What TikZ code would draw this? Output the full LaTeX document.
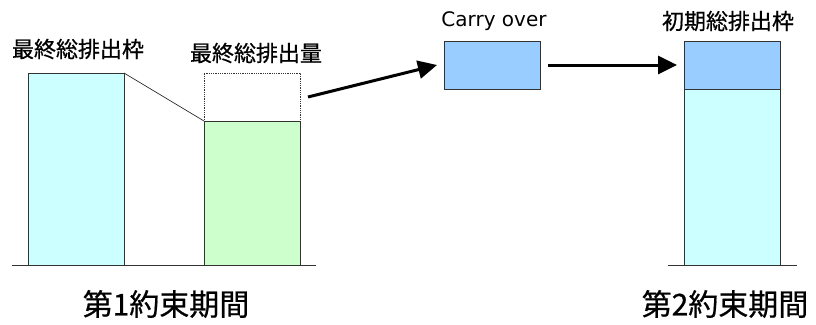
\documentclass[tikz,border=0pt]{standalone}
\usepackage{fontspec}
\newfontfamily\jpfont[FakeBold=0.6]{Noto Sans CJK JP}
\newfontfamily\latinfont{DejaVu Sans}
\usetikzlibrary{arrows.meta}
\definecolor{capcyan}{HTML}{CCFFFF}
\definecolor{usegreen}{HTML}{CCFFCC}
\definecolor{carryblue}{HTML}{99CCFF}
\definecolor{edgegray}{HTML}{333333}
\begin{document}
\begin{tikzpicture}[x=1pt,y=-1pt,
  barbox/.style={draw=edgegray, line width=0.8pt, inner sep=0pt, outer sep=0pt, minimum width=96pt},
  toplabel/.style={font=\jpfont\fontsize{22}{24}\selectfont, inner sep=0pt},
  periodlabel/.style={font=\jpfont\fontsize{30}{32}\selectfont, inner sep=0pt},
  ground/.style={draw=edgegray, line width=0.8pt},
  bigarrow/.style={line width=3pt, -{Triangle[length=19pt,width=18pt]}}
]
\useasboundingbox (0,0) rectangle (816,324);

% first commitment period: cap and actual emissions
\node[barbox, fill=capcyan, minimum height=192pt] (cap1) at (76,169) {};
\node[barbox, draw=edgegray, densely dotted, minimum height=48pt] (gap) at (252,97) {};
\node[barbox, fill=usegreen, minimum height=144pt] (use1) at (252,193) {};
\draw[edgegray, line width=0.7pt] (cap1.north east) -- (use1.north west);
\coordinate (g1a) at (12,265);
\coordinate (g1b) at (316,265);
\draw[ground] (g1a) -- (g1b);

% carried-over amount
\node[barbox, fill=carryblue, minimum height=48pt] (carry) at (492,65) {};

% second commitment period: initial cap
\node[barbox, fill=carryblue, minimum height=48pt] (cap2top) at (732,65) {};
\node[barbox, fill=capcyan, minimum height=176pt] (cap2) at (732,177) {};
\coordinate (g2a) at (668,265);
\coordinate (g2b) at (797,265);
\draw[ground] (g2a) -- (g2b);

% flow of the surplus
\coordinate (a1) at (308,97);
\draw[bigarrow] (a1) -- ([xshift=-7pt]carry.west);
\draw[bigarrow] ([xshift=8pt]carry.east) -- ([xshift=-7pt]cap2top.west);

% labels
\node[toplabel] (lcap1) at (78,49) {最終総排出枠};
\node[toplabel] (luse1) at (256,53) {最終総排出量};
\node[font=\latinfont\fontsize{20}{22}\selectfont, inner sep=0pt] (lcarry) at (494,21) {Carry over};
\node[toplabel] (lcap2) at (728,21) {初期総排出枠};
\node[periodlabel] (p1) at (166,304) {第1約束期間};
\node[periodlabel] (p2) at (725,304) {第2約束期間};
\end{tikzpicture}
\end{document}
